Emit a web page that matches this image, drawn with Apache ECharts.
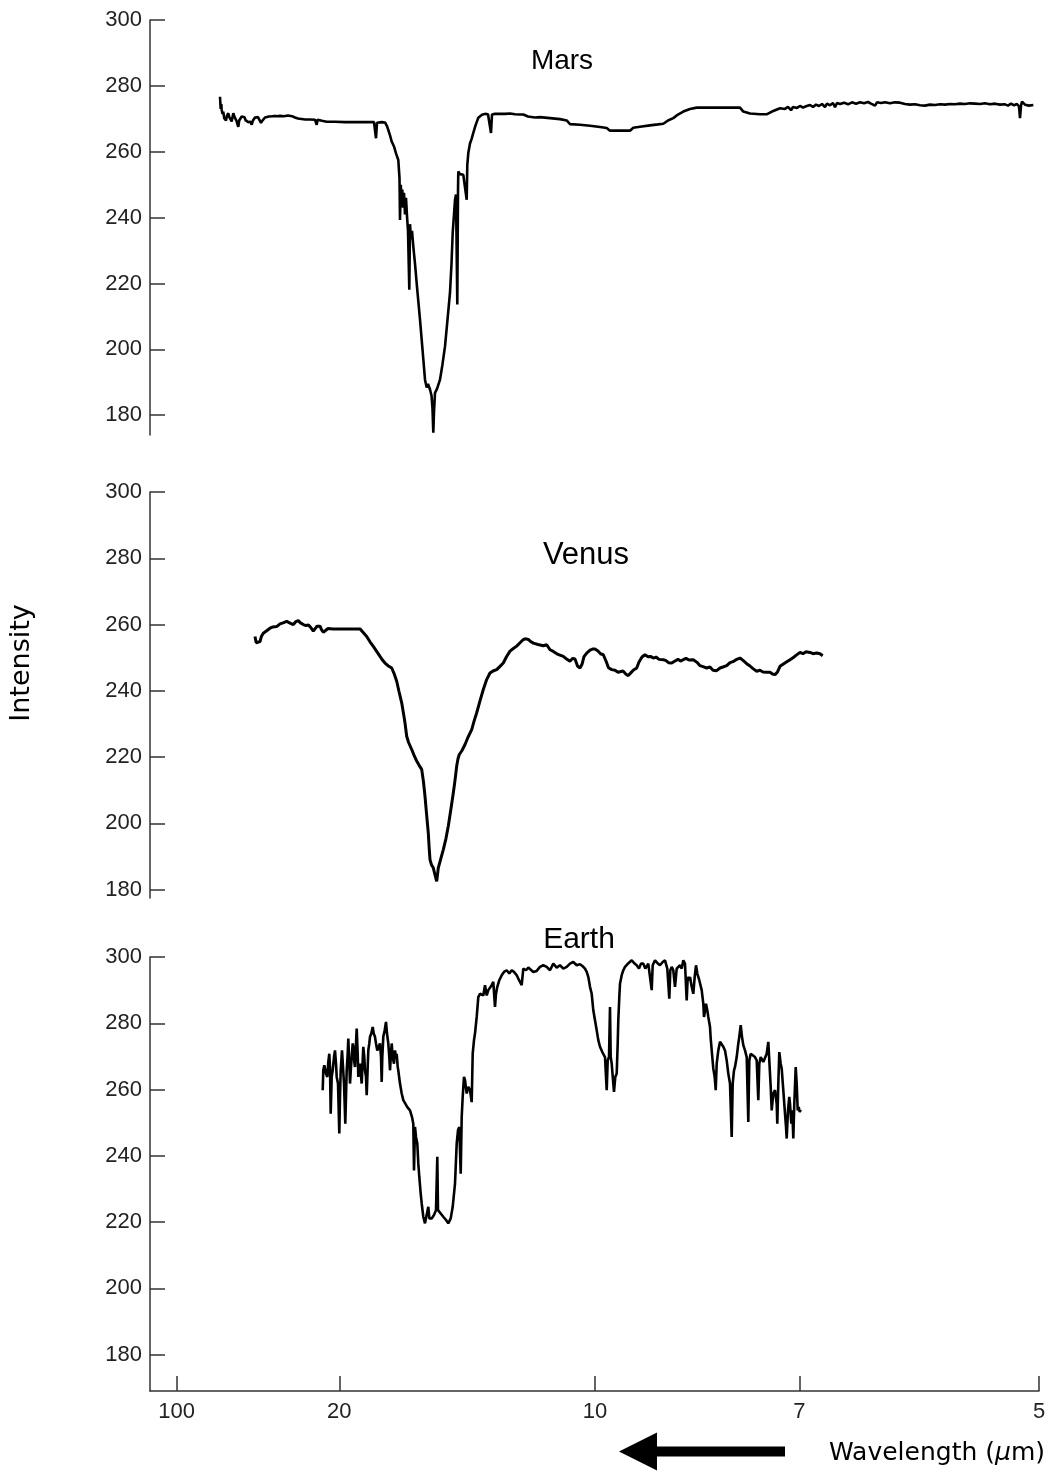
<!DOCTYPE html>
<html>
<head>
<meta charset="utf-8">
<script src="https://cdn.jsdelivr.net/npm/echarts@6/dist/echarts.min.js"></script>
<style>
html,body{margin:0;padding:0;background:#fff;}
#chart{width:1055px;height:1472px;}
</style>
</head>
<body>
<div id="chart"></div>
<script>
// Spectral axis position (axis units from the left edge of the plot) and tick labels (wavelength, µm)
const xTickValues = [26.7, 189.3, 445, 649.3, 889];
const xTickLabels = ['100', '20', '10', '7', '5'];
const yTickValues = [180, 200, 220, 240, 260, 280, 300];
const panelNames = ['Mars', 'Venus', 'Earth'];

// [spectral position, intensity]
const mars = [[70,276.7],[70.7,273],[71.3,274.5],[71.7,272.7],[72.5,271.5],[73.3,272.2],[74.2,270.2],[75,270.7],[76,269.5],[77,271],[78.3,271.7],[79.3,270.5],[80.5,271],[81.7,269.2],[82.5,270.5],[83.3,271.7],[84.5,270.6],[85.5,270.9],[86.5,269.4],[87.5,268.3],[88.3,267.6],[89.2,269.5],[90.3,270.1],[91.7,270.7],[93,270.3],[94.5,270.5],[95.5,269.6],[96.7,269.9],[98,269],[99,268.6],[100.5,269.1],[101.7,268.2],[102.8,269.4],[104,270],[105,270.4],[106.5,270.1],[108,270.5],[110,269.9],[111,268.8],[111.7,268.2],[112.8,269.6],[114,270.2],[115,270.4],[117,270.3],[119,270.7],[121,270.4],[123,270.8],[125,270.5],[126.7,270.8],[128.5,270.5],[130,270.9],[132,270.6],[134,270.8],[136,270.7],[138,271],[140,271.2],[142,270.8],[145,270.4],[148,270.1],[150,269.9],[155,269.8],[160,269.8],[165,269.7],[166.7,268.2],[167.5,269.7],[172,269.4],[176.7,269.1],[185,269.1],[195,269],[205,269],[215,269],[224,269],[225,266.5],[226,264.1],[227,268.8],[232,269],[235,268.9],[237,267.8],[238.3,266.6],[240,265],[241.7,263.1],[244,261.6],[246,259.5],[248.3,257.5],[249.5,252],[250,239.3],[250.8,250],[251.5,245],[252.3,248.5],[253,243],[254,247.5],[255,241],[256,246],[257,240.5],[258,236],[259.3,218.1],[260,238],[261,233.5],[262,236],[263.3,231.3],[265,226],[267,219],[270,209],[272.5,200],[275,190.8],[276.7,188.4],[278,189.5],[280,187.8],[281.5,186],[282.5,182],[283.3,174.7],[284,181],[285,186.8],[287,188],[290,190.8],[292.5,195.5],[295,200.9],[297.5,209],[300,217.2],[301.5,226],[302.7,235.4],[304,241],[305,245.4],[306,247],[307.3,213.6],[308,248],[308.3,254],[310,253.2],[313.3,253],[315,252.5],[316.7,245.4],[317.3,256],[318.3,259.6],[320,262.5],[321.7,264],[323.3,265.7],[325,267.5],[326.7,269],[328.3,270.3],[330,270.9],[332,271.2],[335,271.5],[338,271.4],[340,271.3],[341,265.7],[342,271.3],[345,271.5],[350,271.5],[355,271.5],[360,271.6],[365,271.4],[370,271.3],[373.3,271.3],[378,270.7],[385,270.4],[390,270.5],[400,270.2],[410,269.9],[416.7,269.5],[420,268.4],[430,268.2],[440,267.9],[450,267.5],[456.7,267.2],[460,266.4],[470,266.4],[480,266.4],[483.3,267.3],[490,267.6],[500,268],[508,268.3],[513.3,268.5],[518,269.5],[523.3,270.2],[528,271.3],[533.3,272.2],[540,273],[546.7,273.4],[560,273.4],[575,273.4],[590,273.4],[593.3,272.2],[600,271.6],[610,271.4],[617,271.4],[622,272.2],[630,273.2],[635,273],[638,273.6],[641,272.6],[643,273.6],[647,273.3],[650,273.9],[653,273.4],[656,273.8],[660,274.2],[663,273.6],[666,274.3],[669,273.9],[672,274.5],[675,273.6],[677,274.6],[680,274.1],[683,274.8],[685,273.5],[687,274.8],[690,274.5],[694,274.9],[698,274.4],[702,275],[706,274.6],[710,275],[714,274.7],[718,275.1],[721,274.6],[723,274.9],[725,274],[727,275],[731,274.8],[735,275],[740,274.7],[745,275],[750,274.9],[755,274.5],[760,274.3],[765,274.4],[770,274.1],[775,274],[780,274.3],[785,274.2],[790,274.4],[795,274.3],[800,274.5],[805,274.4],[810,274.6],[815,274.5],[820,274.7],[825,274.6],[830,274.5],[835,274.7],[840,274.4],[845,274.6],[850,274.3],[855,274.4],[858,274],[861,274.6],[864,274.1],[867,274.5],[869,273.8],[870,270.2],[871,274],[872,275.2],[873.3,275.4],[875,274.3],[877,274.8],[879,274],[881,274.4],[883.3,274.2]];

const venus = [[105,256.4],[106.2,254.5],[106.7,253.9],[108,255],[110,254.9],[111.5,256.5],[113.3,257.4],[115,257],[117,258.2],[120,258.9],[123,259.3],[126.7,259.4],[130,260.2],[133,260.5],[136.7,261],[139,260.6],[141,260.1],[143.3,260],[145.5,260.8],[148.3,261.2],[150.5,260.5],[153.3,260],[156,259.7],[158.5,259.9],[160.5,259.2],[161.7,259],[163.3,258],[165,258.7],[167,259.5],[170,259.5],[171.5,258.5],[173.3,257.7],[175.5,258.2],[178,258.8],[180,258.5],[183,258.7],[186.7,258.7],[195,258.7],[205,258.7],[210,258.7],[213,257.7],[216.7,256.4],[220,254.8],[223.3,253.4],[226.5,252],[230,250.4],[232.5,249.3],[235,248.4],[238,247.6],[241.7,246.9],[244,245.3],[246.7,242.9],[249,239.8],[251.7,236.4],[253.5,233.2],[255,230.3],[256.7,226.3],[258.5,224.5],[261.7,222.3],[264,220.6],[266.7,218.8],[269,217.6],[271.7,216.3],[273.5,212.5],[275,208.2],[276.5,203],[278.3,197.1],[279.2,192.5],[280,189.1],[281.5,187.5],[283.3,186.6],[285,184.5],[286.7,182.5],[287.5,184.5],[288.3,186.6],[290.5,189],[293.3,192.1],[296,195.5],[298.3,199.2],[301,204.5],[303.3,209.2],[305,213],[306.7,217.3],[308,219.5],[309.3,220.8],[312,222],[315,223.8],[318,226],[321.7,228.3],[324,230.8],[326.7,233.4],[330,237],[333.3,240.4],[336.5,243.3],[340,245.4],[343,246],[346.7,246.4],[350,247.4],[353.3,248.4],[356.5,250.3],[360,252],[363,252.7],[366.7,253.5],[370,254.5],[373.3,255.5],[376,255.7],[378.3,255.5],[381,254.8],[383.3,254.4],[388,254],[393.3,253.6],[396.7,253.9],[400,252.4],[403.3,251.9],[408,251],[413.3,250.4],[417,249.5],[420,248.9],[422.5,249.8],[425,249.6],[427.5,247.5],[430,246.9],[432,248],[434,250.3],[436.7,251.4],[440,252.3],[442.5,252.6],[445,252.6],[448,252],[450.5,251.2],[453.3,250.9],[456,249],[458.5,247],[461.7,246.4],[465,246.2],[468,245.6],[470,245.9],[473,246],[476,245],[478.3,244.6],[481,245.5],[483.5,246.3],[486.7,246.9],[489,248.7],[492,250.2],[495,250.9],[498,250.3],[500.5,250.4],[503.3,249.9],[506,250.2],[509,249.5],[513.3,249.4],[516,249.1],[518.5,248.5],[521.7,248.4],[525,249],[528,249.5],[530.5,249],[533.3,249.4],[536,249.8],[539,249.3],[543.3,249.4],[547,248.6],[550,247.6],[553,247.3],[556.7,246.9],[560,247.2],[563,246.2],[566.7,246.1],[570,246.9],[573,247.2],[576.7,247.6],[580,248.5],[583,248.8],[586,249.4],[590,249.9],[593,249.2],[596.7,248.2],[600,247.5],[603,246.7],[606.7,245.9],[610,246.2],[613,245.7],[616.7,245.6],[620,245.6],[622.5,245.1],[625,244.9],[627.5,245.7],[630,247.4],[633,248],[636,248.6],[640,249.4],[643,250],[646,250.7],[650,251.6],[653,251.2],[656,251.8],[660,251.6],[663,251.2],[666.7,251.4],[670,251.2],[672.7,250.6]];

const earth = [[172.7,259.8],[173.3,265.8],[174.3,267.3],[175,267.8],[176,264.8],[177.3,263.8],[178.3,268.3],[179.3,270.8],[180,266.8],[180.7,252.7],[181.7,263.8],[182.7,265.8],[184,269.8],[185,271.8],[186,267.8],[186.7,263.8],[188,261.8],[189.3,246.7],[190,257.8],[190.7,265.8],[192,271.8],[193,266.8],[194,261.8],[195.3,249.7],[196,257.8],[196.7,265.8],[197.7,270.8],[198.3,275.4],[199.3,267.8],[200,261.8],[201,266.8],[201.7,269.8],[202.7,273.9],[203.3,272.9],[204.3,268.3],[205,266.8],[206,273.9],[206.7,278.4],[207.7,270.8],[208.3,263.8],[209.3,266.8],[210,267.8],[211,264.3],[211.7,261.8],[212.7,268.8],[213.3,272.9],[214.3,269.8],[215,265.8],[216,263.8],[216.7,258.3],[217.7,266.8],[218.3,271.8],[219.3,273.9],[220,275.9],[221.3,276.9],[222.7,278.9],[223.7,276.9],[225,275.9],[226,273.9],[227.3,271.8],[228.7,272.9],[230,273.9],[231,269.8],[231.7,262.3],[232.3,269.8],[233.3,275.9],[234.7,277.9],[236,280.4],[237,276.9],[238.3,273.9],[239.3,269.8],[240,265.8],[241,270.8],[241.7,273.9],[242.7,269.8],[244,267.8],[245,271.8],[246,269.8],[246.7,270.8],[247.7,266.8],[248.3,265.8],[250,261.8],[251.7,258.8],[253.3,256.8],[255,256.2],[257.3,254.7],[260,253.7],[262,251.7],[263.3,249.7],[264,235.6],[265,248.7],[266,245.7],[267.3,243.7],[268.3,237.7],[269.3,233.6],[270.7,228.6],[271.7,225.6],[273.3,221.6],[275,219.6],[276.7,220.1],[278.3,224.6],[279.3,221.1],[281.7,221.1],[284,222.1],[286,223.6],[287.3,239.7],[288,223.6],[290,223.1],[293.3,221.6],[296,220.6],[298.3,219.6],[300.7,221.1],[302.7,224.6],[305,231.6],[306.7,243.7],[308,247.7],[309.3,248.7],[310.7,234.6],[311.7,251.7],[312.7,257.8],[314,263.8],[315,262.8],[316.7,258.8],[318.3,260.8],[320,259.8],[321.7,256.2],[322.7,270.8],[324,274.9],[325,276.9],[326.7,281.9],[328.3,287.9],[330,288.9],[331.7,289.4],[333.3,288.4],[335,291.5],[336.7,288.4],[338.3,290],[340,290],[341.7,291.5],[343.3,292.5],[345,284.9],[346,288.9],[347.3,291],[349.3,293],[351.7,294.5],[354,295.5],[356.7,296],[359.3,295],[361.7,296],[364,295.5],[366.7,294.5],[368.3,293.5],[370,294],[371.7,291.5],[373.3,296.5],[376,296],[378.3,296.8],[380,296.5],[383.3,295.5],[386.7,295.8],[390,297],[393.3,297.5],[396.7,297],[400,296],[403.3,298],[406.7,296.8],[410,297.5],[413.3,296.5],[416.7,297],[420,298],[423.3,298.5],[426.7,297.5],[430,297.8],[432.7,297.2],[435,296.5],[436.7,295.5],[438.3,294],[440,291],[441.7,288.9],[443.3,283.9],[445,280.9],[446.7,277.9],[448.3,274.9],[450,272.9],[452.3,271.3],[455,269.8],[456.7,259.8],[457.7,268.8],[459,269.8],[460,284.9],[460.7,269.8],[461.7,267.8],[463.3,261.8],[464,259.3],[465.3,263.8],[466.7,264.8],[467.7,273.9],[468.3,280.9],[469.3,287.9],[470,291.9],[471.7,294.5],[473.3,296],[475,297],[477.3,297.8],[479.3,298],[481.7,299],[484,298.2],[486.7,297.5],[489,296.5],[491,298],[493.3,298],[495.3,296.5],[496.7,296],[498.3,298],[500,297.5],[501.7,290],[502.7,297.5],[505,299],[507.3,298.2],[510,297.5],[512.7,298.5],[515,299],[517.3,296.5],[519.3,287.4],[520.3,296],[521.7,297],[523.3,296],[525,291],[526.7,296.5],[528.3,296],[530,297.5],[531.7,296.5],[533.3,299],[535,298],[536.7,286.9],[537.7,294],[539,293],[540,294],[541.7,291],[543.3,288.9],[544.7,294],[546,297.5],[547.3,295],[548.3,294],[549.3,293],[550,292.5],[551.7,290],[553.3,285.9],[554,281.9],[555,281.4],[556,285.9],[557.3,283.9],[558.3,281.9],[560,278.9],[560.7,275.4],[562,270.8],[563.3,266.3],[564.7,263.8],[565.7,259.8],[566.7,267.8],[568.3,271.8],[570,274.4],[571.7,274.9],[573.3,272.9],[575,271.8],[576.7,268.8],[578.3,264.8],[580,261.8],[581.7,245.7],[582.7,261.8],[584,265.8],[585,266.8],[586.7,269.8],[588.3,273.9],[589.3,275.9],[590.7,279.4],[592,275.9],[593.3,273.4],[595,271.8],[596.7,269.8],[598.3,250.2],[599.3,268.8],[600.7,270.8],[602.7,270.3],[605,269.8],[606.7,268.8],[608.3,256.8],[609.3,267.8],[610.7,269.8],[611.7,269.8],[613.3,268.3],[615,268.3],[616.7,270.8],[618.3,274.4],[619.3,268.8],[620.7,260.8],[621.7,253.7],[623.3,258.8],[625,259.8],[626.7,255.7],[627.3,249.7],[628.3,261.8],[629.3,271.3],[630.7,267.8],[631.7,266.3],[633.3,259.8],[635,252.7],[636,248.7],[636.7,245.2],[638,253.7],[639.3,257.8],[640,255.7],[641.3,249.7],[642.3,253.7],[643.3,245.2],[644.3,255.7],[645.7,266.8],[646.7,261.8],[647.7,253.7],[648.7,254.7],[649.7,253.2],[650.7,253.9]];

const panelData = [mars, venus, earth];

const chart = echarts.init(document.getElementById('chart'), null, {renderer: 'canvas'});
const axisColor = '#333';
const labelFont = '"Liberation Sans", Arial, sans-serif';

const grids = [
  {left: 150, width: 889, top: 20, height: 415},
  {left: 150, width: 889, top: 492, height: 406},
  {left: 150, width: 889, top: 957, height: 434}
];
const yMins = [174, 177.5, 169];

const xAxes = grids.map((g, i) => ({
  type: 'value', gridIndex: i, min: 0, max: 889,
  show: i === 2,
  axisLine: {show: true, onZero: false, lineStyle: {color: axisColor, width: 1.5}},
  axisTick: {show: true, inside: true, length: 15, customValues: xTickValues, lineStyle: {color: axisColor, width: 1.5}},
  axisLabel: {
    show: true, customValues: xTickValues, margin: 10, fontSize: 22, color: '#222', fontFamily: labelFont,
    formatter: v => {
      let best = 0;
      xTickValues.forEach((t, k) => { if (Math.abs(t - v) < Math.abs(xTickValues[best] - v)) best = k; });
      return xTickLabels[best];
    }
  },
  splitLine: {show: false}
}));

const yAxes = grids.map((g, i) => ({
  type: 'value', gridIndex: i, min: yMins[i], max: 300,
  axisLine: {show: true, onZero: false, lineStyle: {color: axisColor, width: 1.5}},
  axisTick: {show: true, inside: true, length: 15, customValues: yTickValues, lineStyle: {color: axisColor, width: 1.5}},
  axisLabel: {show: true, customValues: yTickValues, margin: 8, fontSize: 22, color: '#222', fontFamily: labelFont},
  splitLine: {show: false}
}));

const lineWidths = [2.6, 3, 2.6];
const series = panelData.map((d, i) => ({
  type: 'line', name: panelNames[i], xAxisIndex: i, yAxisIndex: i,
  data: d, showSymbol: false, symbol: 'none', smooth: false,
  lineStyle: {color: '#000', width: lineWidths[i]},
  emphasis: {disabled: true}, animation: false
}));

const namePos = [[562, 61, 28], [586, 555, 31], [579, 940, 30]];
const graphics = panelNames.map((n, i) => ({
  type: 'text', x: namePos[i][0], y: namePos[i][1],
  style: {text: n, font: namePos[i][2] + 'px ' + labelFont, fill: '#000', textAlign: 'center', textVerticalAlign: 'middle'}
}));
graphics.push({
  type: 'text', x: 22, y: 663, rotation: Math.PI / 2,
  style: {text: 'Intensity', font: '27px "DejaVu Sans", sans-serif', fill: '#000', textAlign: 'center', textVerticalAlign: 'middle'}
});
graphics.push({
  type: 'text', x: 829, y: 1453,
  style: {
    text: '{n|Wavelength (}{i|µ}{n|m)}', textAlign: 'left', textVerticalAlign: 'middle',
    rich: {
      n: {font: '25px "DejaVu Sans", sans-serif', fill: '#000'},
      i: {font: 'italic 25px "DejaVu Sans", sans-serif', fill: '#000'}
    }
  }
});
graphics.push({
  type: 'polygon',
  shape: {points: [[619, 1451.5], [657, 1432.5], [657, 1446.5], [785, 1446.5], [785, 1456.5], [657, 1456.5], [657, 1470.5]]},
  style: {fill: '#000'}
});

chart.setOption({
  backgroundColor: '#fff',
  animation: false,
  grid: grids,
  xAxis: xAxes,
  yAxis: yAxes,
  series: series,
  graphic: graphics
});
</script>
</body>
</html>
